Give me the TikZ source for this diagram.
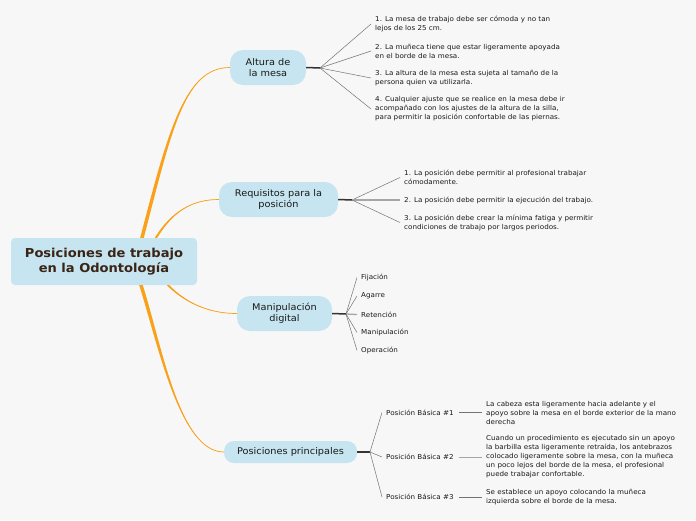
\documentclass[tikz,border=0pt]{standalone}
\usepackage{fontspec}
\setmainfont[FakeStretch=1.06]{DejaVu Sans}
\usetikzlibrary{calc}
\definecolor{fondo}{HTML}{F7F7F7}
\definecolor{celeste}{HTML}{C6E5F0}
\definecolor{naranja}{HTML}{F9A11B}
\definecolor{cafe}{HTML}{3A2415}
\newcommand{\ramal}[5]{%
  \fill[naranja] ($#1+(-#5,0)$) .. controls +#2 and +#3 .. #4 .. controls +#3 and +#2 .. ($#1+(#5,0)$) -- cycle;
  \draw[naranja,line width=0.7pt] #1 .. controls +#2 and +#3 .. #4;}
\begin{document}
\begin{tikzpicture}[x=1pt,y=-1pt,
    raiz/.style={fill=celeste,rounded corners=4pt,minimum width=186pt,minimum height=47pt,align=center,text=cafe,font=\fontsize{12.3}{15.5}\selectfont\bfseries},
    rama/.style={fill=celeste,rounded corners=13pt,minimum height=35pt,align=center,inner sep=2pt,text=black!90,font=\fontsize{9.2}{11.5}\selectfont},
    hoja/.style={anchor=west,align=left,inner xsep=4pt,inner ysep=1pt,text=black!90,font=\fontsize{6.75}{9}\selectfont},
    tallo/.style={draw=black!80,line width=1.5pt},
    abanico/.style={draw=black!55,line width=0.5pt},
    claro/.style={draw=black!35,line width=1.3pt}]
    \fill[fondo] (0,0) rectangle (696,520);
    \useasboundingbox (0,0) rectangle (696,520);

    \node[raiz] (root) at (104,261.5) {Posiciones de trabajo\\en la Odontología};

    \node[rama,minimum width=76pt] (altura) at (268,67.5) {Altura de\\la mesa};
    \node[rama,minimum width=119pt] (requisitos) at (278.5,199.5) {Requisitos para la\\posición};
    \node[rama,minimum width=95pt] (manipulacion) at (284.5,313.5) {Manipulación\\digital};
    \node[rama,minimum width=133pt,minimum height=22pt,rounded corners=10pt] (principales) at (290.5,452) {Posiciones principales};

    \coordinate (s1) at ($(root.north)+(38,0)$);
    \coordinate (s2) at ($(root.north)+(52,0)$);
    \coordinate (s3) at ($(root.south)+(64,0)$);
    \coordinate (s4) at ($(root.south)+(37,0)$);
    \ramal{(s1)}{(28,-108)}{(-45,0)}{(altura.west)}{1.8}
    \ramal{(s2)}{(16,-26)}{(-27,0)}{(requisitos.west)}{1.2}
    \ramal{(s3)}{(17,17)}{(-29,0)}{(manipulacion.west)}{1.2}
    \ramal{(s4)}{(19,60)}{(-44,0)}{(principales.west)}{1.8}

    \node[hoja] (a1) at (371,24) {1. La mesa de trabajo debe ser cómoda y no tan\\lejos de los 25 cm.};
    \node[hoja] (a2) at (371,51) {2. La muñeca tiene que estar ligeramente apoyada\\en el borde de la mesa.};
    \node[hoja] (a3) at (371,78) {3. La altura de la mesa esta sujeta al tamaño de la\\persona quien va utilizarla.};
    \node[hoja] (a4) at (371,109) {4. Cualquier ajuste que se realice en la mesa debe ir\\acompañado con los ajustes de la altura de la silla,\\para permitir la posición confortable de las piernas.};
    \coordinate (ja) at (320,68);
    \draw[tallo] (altura.east) -- (ja);
    \draw[abanico] (ja) -- (a1.west);
    \draw[abanico] (ja) -- (a2.west);
    \draw[abanico] (ja) -- (a3.west);
    \draw[abanico] (ja) -- (a4.west);

    \node[hoja] (r1) at (400,177.5) {1. La posición debe permitir al profesional trabajar\\cómodamente.};
    \node[hoja] (r2) at (400,200) {2. La posición debe permitir la ejecución del trabajo.};
    \node[hoja] (r3) at (400,222.5) {3. La posición debe crear la mínima fatiga y permitir\\condiciones de trabajo por largos periodos.};
    \coordinate (jr) at (352,200);
    \draw[tallo] (requisitos.east) -- (jr);
    \draw[abanico] (jr) -- (r1.west);
    \draw[claro] (jr) -- (r2.west);
    \draw[abanico] (jr) -- (r3.west);

    \node[hoja] (m1) at (357,277.5) {Fijación};
    \node[hoja] (m2) at (357,296) {Agarre};
    \node[hoja] (m3) at (357,314.5) {Retención};
    \node[hoja] (m4) at (357,332.5) {Manipulación};
    \node[hoja] (m5) at (357,350.5) {Operación};
    \coordinate (jm) at (346,314);
    \draw[tallo] (manipulacion.east) -- (jm);
    \draw[abanico] (jm) -- (m1.west);
    \draw[abanico] (jm) -- (m2.west);
    \draw[claro] (jm) -- (m3.west);
    \draw[abanico] (jm) -- (m4.west);
    \draw[abanico] (jm) -- (m5.west);

    \node[hoja] (p1) at (382,412.5) {Posición Básica \#1};
    \node[hoja] (p2) at (382,457) {Posición Básica \#2};
    \node[hoja] (p3) at (382,497) {Posición Básica \#3};
    \coordinate (jp) at (370,452);
    \draw[tallo] (principales.east) -- (jp);
    \draw[abanico] (jp) -- (p1.west);
    \draw[abanico] (jp) -- (p2.west);
    \draw[abanico] (jp) -- (p3.west);

    \node[hoja] (d1) at (482,412.5) {La cabeza esta ligeramente hacia adelante y el\\apoyo sobre la mesa en el borde exterior de la mano\\derecha};
    \node[hoja] (d2) at (482,457) {Cuando un procedimiento es ejecutado sin un apoyo\\la barbilla esta ligeramente retraída, los antebrazos\\colocado ligeramente sobre la mesa, con la muñeca\\un poco lejos del borde de la mesa, el profesional\\puede trabajar confortable.};
    \node[hoja] (d3) at (482,497) {Se establece un apoyo colocando la muñeca\\izquierda sobre el borde de la mesa.};
    \draw[abanico,shorten <=1pt] (p1.east) -- (d1.west);
    \draw[claro,line width=1pt,shorten <=1pt] (p2.east) -- (d2.west);
    \draw[abanico,shorten <=1pt] (p3.east) -- (d3.west);
\end{tikzpicture}
\end{document}
